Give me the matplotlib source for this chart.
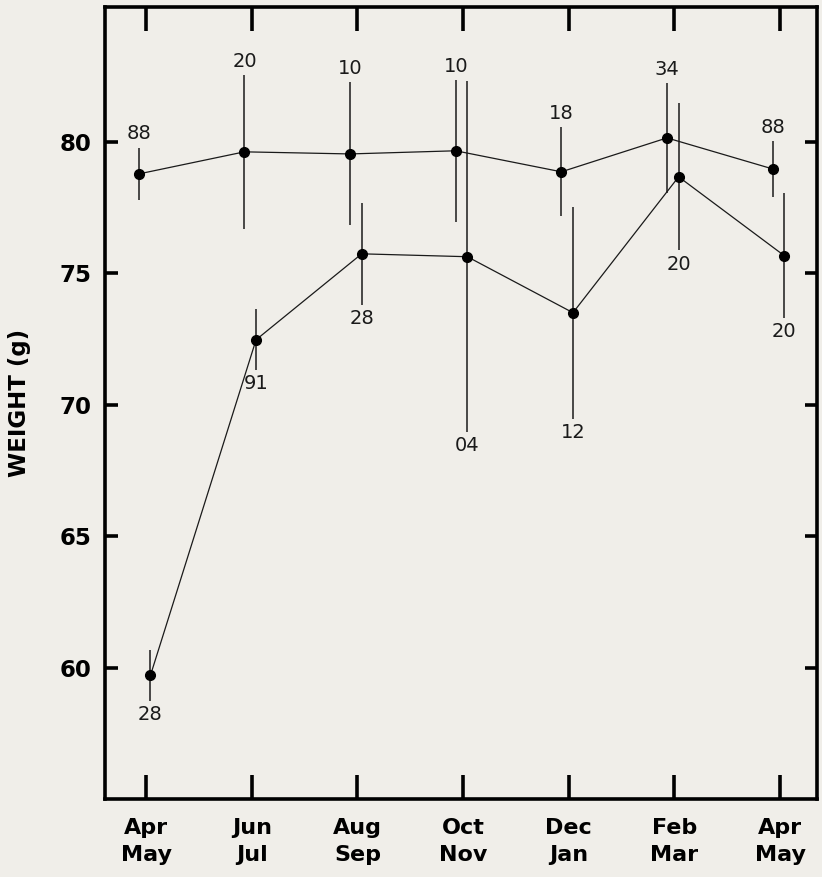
import matplotlib
matplotlib.use("Agg")
import matplotlib.pyplot as plt
import numpy as np

# ---- data ----
periods = ["Apr\nMay", "Jun\nJul", "Aug\nSep", "Oct\nNov", "Dec\nJan", "Feb\nMar", "Apr\nMay"]
upper_mean = [78.78, 79.62, 79.54, 79.66, 78.86, 80.15, 78.97]
upper_err = [1.00, 2.93, 2.72, 2.70, 1.69, 2.10, 1.06]
upper_n = ["88", "20", "10", "10", "18", "34", "88"]
lower_mean = [59.70, 72.47, 75.74, 75.63, 73.50, 78.67, 75.67]
lower_err = [0.97, 1.16, 1.95, 6.67, 4.03, 2.80, 2.38]
lower_n = ["28", "91", "28", "04", "12", "20", "20"]
yticks = [60, 65, 70, 75, 80]

bg = "#f0eee9"
plt.rcParams['font.family'] = ['DejaVu Sans']

fig = plt.figure(figsize=(8.22, 8.77), dpi=100, facecolor=bg)
ax = fig.add_axes([105/822, 1-799/877, (817-105)/822, (799-7)/877])
ax.set_facecolor(bg)

x = np.arange(len(periods))
dx_up, dx_lo = -0.07, 0.04
xu = x + dx_up
xl = x + dx_lo

for xs, m, e in ((xu, upper_mean, upper_err), (xl, lower_mean, lower_err)):
    ax.plot(xs, m, color="#1a1a1a", lw=0.9, zorder=2)
    ax.errorbar(xs, m, yerr=e, fmt="none", ecolor="#1a1a1a", elinewidth=1.1, capsize=0, zorder=2)
    ax.plot(xs, m, "o", color="black", ms=7, zorder=3)

for xi, m, e, lab in zip(xu, upper_mean, upper_err, upper_n):
    ax.annotate(lab, (xi, m + e), xytext=(0, 3), textcoords="offset points",
                ha="center", va="bottom", fontsize=14, color="#1a1a1a")
for xi, m, e, lab in zip(xl, lower_mean, lower_err, lower_n):
    ax.annotate(lab, (xi, m - e), xytext=(0, -3), textcoords="offset points",
                ha="center", va="top", fontsize=14, color="#1a1a1a")

ax.set_xlim(-0.39, 6.35)
ax.set_ylim(55.0, 85.13)
ax.set_xticks(x)
ax.set_xticklabels(periods, fontsize=16, fontweight="bold", linespacing=1.4)
ax.set_yticks(yticks)
ax.set_yticklabels([str(v) for v in yticks], fontsize=16.5, fontweight="bold")
ax.tick_params(axis="x", direction="in", length=17, width=2.6, top=True, bottom=True, pad=14, color="black")
ax.tick_params(axis="y", direction="in", length=9, width=2.6, left=True, right=True, pad=10, color="black")
for s in ax.spines.values():
    s.set_linewidth(2.6)
    s.set_color("black")

ax.set_ylabel("WEIGHT (g)", fontsize=16.5, fontweight="bold", labelpad=20)

fig.savefig("out.png", dpi=100, facecolor=bg)
